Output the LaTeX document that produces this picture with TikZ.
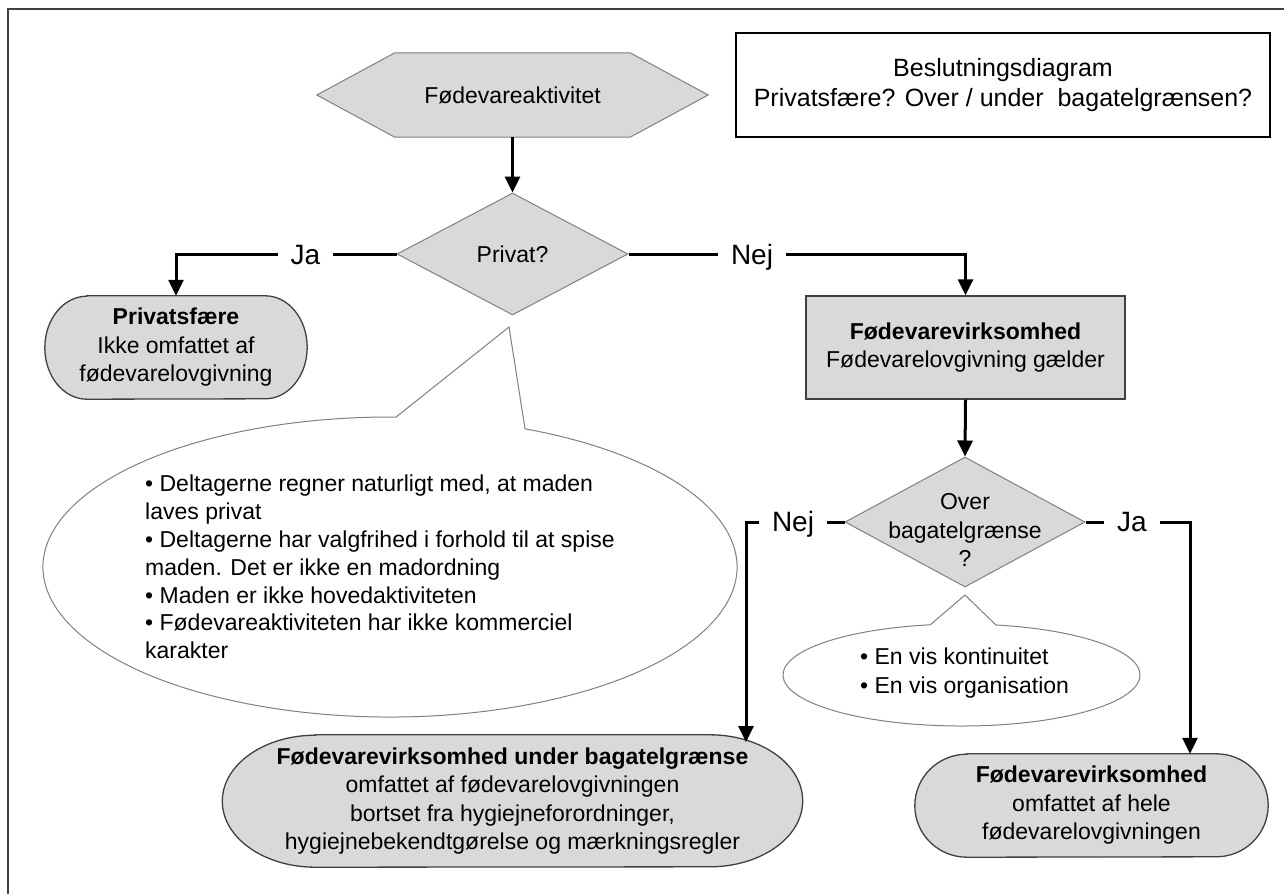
\documentclass[tikz,border=0pt]{standalone}
\usepackage{fontspec}
\setmainfont{Liberation Sans}
\usetikzlibrary{shapes.geometric,arrows.meta,backgrounds}
\definecolor{shapegray}{HTML}{D9D9D9}
\definecolor{edgegray}{HTML}{808080}
\definecolor{darkedge}{HTML}{404040}
\tikzset{
  txt/.style={font=\fontsize{23}{28.5}\selectfont, align=center, inner sep=0pt},
  boxarea/.style={txt, rectangle},
  hexst/.style={fill=shapegray, draw=edgegray, line width=1pt},
  termst/.style={fill=shapegray, draw=darkedge, line width=1.3pt},
  diam/.style={txt, diamond, fill=shapegray, draw=edgegray, line width=1pt},
  procbox/.style={txt, rectangle, fill=shapegray, draw=darkedge, line width=1.3pt},
  titlebox/.style={rectangle, draw=black, line width=2pt, align=center, inner sep=0pt,
    font=\fontsize{25}{30}\selectfont},
  callst/.style={fill=white, draw=edgegray, line width=1pt},
  conn/.style={line width=3pt, -{Triangle[length=16pt,width=15pt]}},
  lbl/.style={fill=white, anchor=base, inner xsep=13pt, inner ysep=3pt, font=\fontsize{28}{32}\selectfont},
  framest/.style={draw=darkedge, line width=1.5pt}
}
\newcommand\termpath[3]{%
  \filldraw[termst] ([xshift=#2]#1.north west) -- ([xshift=-#2]#1.north east)
    arc[start angle=90,end angle=-90,x radius=#2,y radius=#3]
    -- ([xshift=#2]#1.south west)
    arc[start angle=270,end angle=90,x radius=#2,y radius=#3] -- cycle;}
\begin{document}
\begin{tikzpicture}[x=1pt,y=-1pt]
\useasboundingbox (0,0) rectangle (1284,894);
\draw[framest] (8,894) -- (8,9) -- (1284,9);

% title
\node[titlebox, minimum width=534pt, minimum height=104pt] (title) at (1003,85)
  {Beslutningsdiagram\\Privatsfære? Over / under\ \ bagatelgrænsen?};

% hexagon
\node[boxarea, minimum width=391pt, minimum height=84pt] (hex) at (512.5,95) {Fødevareaktivitet};
% diamonds
\node[diam, minimum width=231pt, minimum height=122pt] (d1) at (512.5,254) {Privat?};
\node[diam, minimum width=240pt, minimum height=130pt] (d2) at (965,522) {};
\node[txt] (d2t) at (965,530) {Over\\bagatelgrænse\\?};
% process box
\node[procbox, minimum width=319pt, minimum height=103pt] (box) at (965.5,347.5)
  {\textbf{Fødevarevirksomhed}\\Fødevarelovgivning gælder};
% terminators
\node[boxarea, minimum width=262pt, minimum height=103pt] (t1) at (176,347.5)
  {\textbf{Privatsfære}\\Ikke omfattet af\\fødevarelovgivning};
\node[boxarea, minimum width=580pt, minimum height=132pt] (t2) at (512.5,801)
  {\textbf{Fødevarevirksomhed under bagatelgrænse}\\omfattet af fødevarelovgivningen\\bortset fra hygiejneforordninger,\\hygiejnebekendtgørelse og mærkningsregler};
\node[boxarea, minimum width=353pt, minimum height=103pt] (t3) at (1091.5,805.5)
  {\textbf{Fødevarevirksomhed}\\omfattet af hele\\fødevarelovgivningen};

% callouts
\coordinate (bigc) at (390,567);
\coordinate (bigtip) at (509,327);
\coordinate (smc) at (961.5,675);
\coordinate (smtip) at (965,595);
\coordinate (t2in) at (746,742);

\begin{scope}[on background layer]
  \filldraw[hexst] (hex.west) -- ([xshift=78pt]hex.north west) -- ([xshift=-78pt]hex.north east)
    -- (hex.east) -- ([xshift=-78pt]hex.south east) -- ([xshift=78pt]hex.south west) -- cycle;
  \termpath{t1}{42pt}{51.5pt}
  \termpath{t2}{93pt}{66pt}
  \termpath{t3}{52pt}{51.5pt}
  \filldraw[callst] ([shift={(89:347pt and 150pt)}]bigc) -- (bigtip)
    -- ([shift={(67.1:347pt and 150pt)}]bigc)
    arc[start angle=67.1,end angle=-271,x radius=347pt,y radius=150pt] -- cycle;
  \filldraw[callst] ([shift={(100.1:178.5pt and 51pt)}]smc) -- (smtip)
    -- ([shift={(78.9:178.5pt and 51pt)}]smc)
    arc[start angle=78.9,end angle=-259.9,x radius=178.5pt,y radius=51pt] -- cycle;
\end{scope}

\node[txt, align=left, anchor=west, font=\fontsize{23}{27.8}\selectfont] (bigtxt) at (145,567)
  {• Deltagerne regner naturligt med, at maden\\laves privat\\• Deltagerne har valgfrihed i forhold til at spise\\maden. Det er ikke en madordning\\• Maden er ikke hovedaktiviteten\\• Fødevareaktiviteten har ikke kommerciel\\karakter};
\node[txt, align=left, anchor=west, font=\fontsize{23}{29}\selectfont] (smtxt) at (860,673)
  {• En vis kontinuitet\\• En vis organisation};

% connectors
\draw[conn] (hex.south) -- (d1.north);
\draw[conn] (d1.west) -| (t1.north);
\draw[conn] (d1.east) -| (box.north);
\draw[conn] (box.south) -- (d2.north);
\draw[conn] (d2.west) -| (t2in);
\draw[conn] (d2.east) -| ([xshift=98.5pt]t3.north);

% labels
\node[lbl] (lja1) at (305.5,264) {Ja};
\node[lbl] (lnej1) at (752,264) {Nej};
\node[lbl] (lnej2) at (793,531) {Nej};
\node[lbl] (lja2) at (1132,531) {Ja};
\end{tikzpicture}
\end{document}
